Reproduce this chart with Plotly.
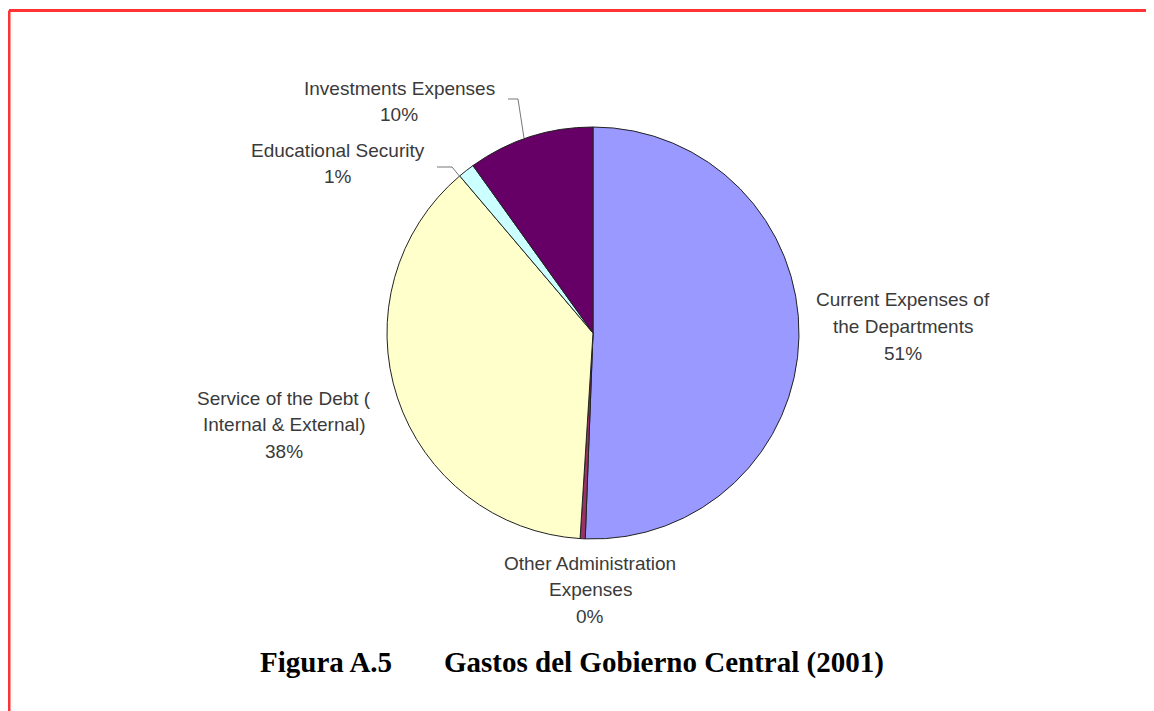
import plotly.graph_objects as go

# slice data, clockwise from 12 o'clock
labels = ["Current Expenses of<br>the Departments",
          "Other Administration<br>Expenses",
          "Service of the Debt (<br>Internal & External)",
          "Educational Security",
          "Investments Expenses"]
values = [50.6, 0.4, 37.8, 1.3, 9.9]
colors = ["#9999FF", "#993366", "#FFFFCC", "#CCFFFF", "#660066"]

# the page body has an 8px margin, so the figure starts at (8, 8)
OFF = 8
W, H = 1154 - OFF, 711 - OFF

def px(x):
    return (x - OFF) / W

def py(y):
    return 1 - (y - OFF) / H

# pie centre and radius in window pixels
cx, cy, r = 593, 333, 206

fig = go.Figure()
fig.add_trace(go.Pie(
    labels=labels,
    values=values,
    sort=False,
    direction="clockwise",
    rotation=0,
    textinfo="none",
    hoverinfo="label+percent",
    marker=dict(colors=colors, line=dict(color="#222222", width=1)),
    domain=dict(x=[px(cx - r), px(cx + r)], y=[py(cy + r), py(cy - r)]),
    showlegend=False,
))

# label positions (x centre, y of first line) and line spacing
label_pos = [(903, 300), (590, 563), (284, 398), (338, 150), (399, 88)]
line_gap = 26.5
total = sum(values)
annotations = []
for lab, v, (lx, ly) in zip(labels, values, label_pos):
    pct = "%d%%" % round(v / total * 100)
    lines = lab.split("<br>") + [pct]
    for i, t in enumerate(lines):
        annotations.append(dict(
            x=px(lx), y=py(ly + i * line_gap), xref="paper", yref="paper",
            text=t, showarrow=False,
            xanchor="center", yanchor="middle", align="center",
            font=dict(family="Liberation Sans, Arial", size=19, color="#3a3a3a"),
        ))

title_font = dict(family="Liberation Serif, Times New Roman", size=29, color="#000000")
annotations.append(dict(x=px(258), y=py(662), xref="paper", yref="paper",
                        text="<b>Figura A.5</b>", showarrow=False,
                        xanchor="left", yanchor="middle", font=title_font))
annotations.append(dict(x=px(442), y=py(662), xref="paper", yref="paper",
                        text="<b>Gastos del Gobierno Central (2001)</b>", showarrow=False,
                        xanchor="left", yanchor="middle", font=title_font))

def path(points):
    return "M " + " L ".join("%f,%f" % (px(a), py(b)) for a, b in points)

shapes = [
    # red frame (top and left edges)
    dict(type="line", xref="paper", yref="paper", x0=px(9), y0=py(10.5), x1=1, y1=py(10.5),
         line=dict(color="#FF3333", width=3)),
    dict(type="line", xref="paper", yref="paper", x0=px(9), y0=py(10.5), x1=px(9), y1=0,
         line=dict(color="#FF3333", width=3)),
    # leader lines
    dict(type="path", xref="paper", yref="paper",
         path=path([(508, 99), (518, 99), (524, 138)]),
         line=dict(color="#777777", width=1)),
    dict(type="path", xref="paper", yref="paper",
         path=path([(437, 167), (452, 167), (461, 178)]),
         line=dict(color="#777777", width=1)),
]

fig.update_layout(
    width=W, height=H,
    margin=dict(l=0, r=0, t=0, b=0),
    paper_bgcolor="white",
    plot_bgcolor="white",
    annotations=annotations,
    shapes=shapes,
)

fig.write_html("out.html")
